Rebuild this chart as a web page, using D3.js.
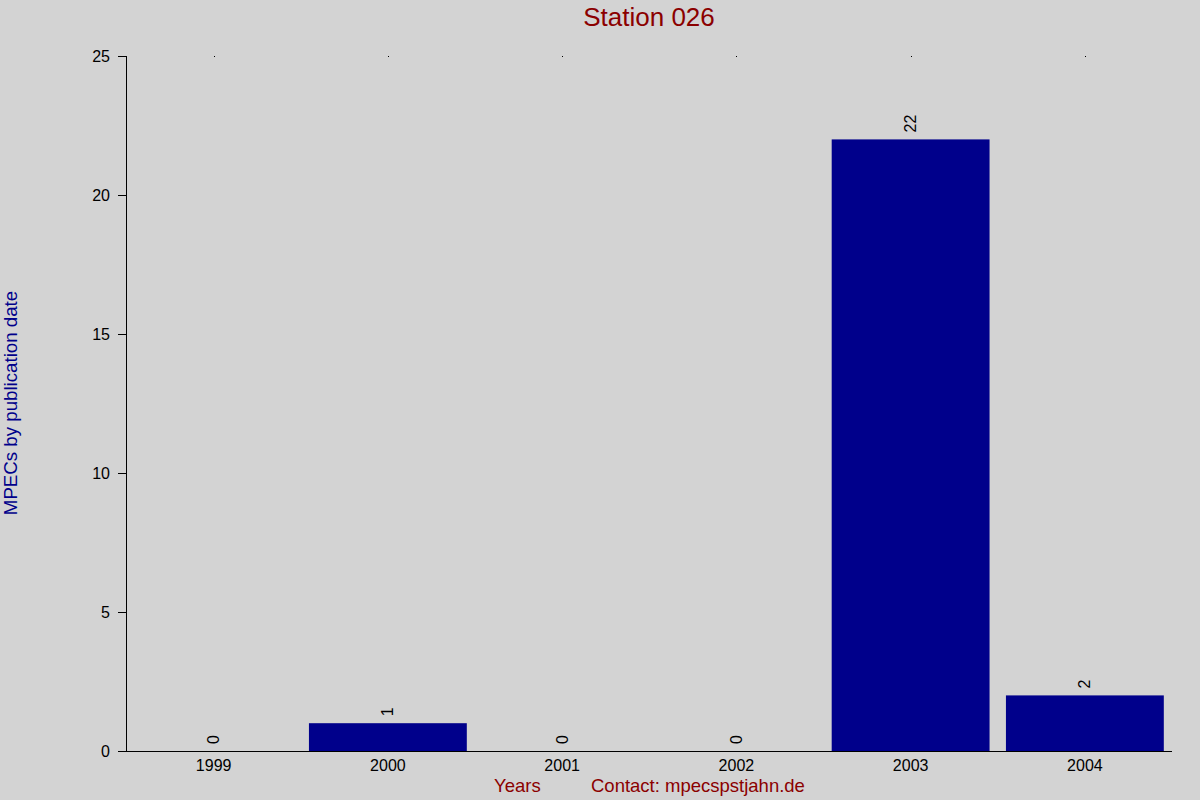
<!DOCTYPE html>
<html><head><meta charset="utf-8">
<script src="https://cdn.jsdelivr.net/npm/d3@7"></script>
<style>html,body{margin:0;padding:0;background:#d3d3d3;}svg{display:block;font-family:"Liberation Sans",Arial,sans-serif;}</style>
</head><body>
<script>
const years = ["1999","2000","2001","2002","2003","2004"];
const counts = [0,1,0,0,22,2];
const yTicks = [0,5,10,15,20,25];
const title = "Station 026";
const yLabel = "MPECs by publication date";
const xLabel = "Years";
const contact = "Contact: mpecspstjahn.de";

const W=1200,H=800;
const svg=d3.select("body").append("svg").attr("width",W).attr("height",H);
svg.append("rect").attr("width",W).attr("height",H).attr("fill","#d3d3d3");
const x=d3.scaleBand().domain(years).range([126.5,1172]).paddingInner(0.094).paddingOuter(0.047);
const y=d3.scaleLinear().domain([0,25]).range([751,56]);

svg.selectAll("rect.bar").data(years).enter().append("rect").attr("class","bar")
  .attr("x",d=>x(d)).attr("width",x.bandwidth())
  .attr("y",(d,i)=>y(counts[i])).attr("height",(d,i)=>y(0)-y(counts[i]))
  .attr("fill","#00008b");

svg.append("line").attr("x1",126.5).attr("x2",126.5).attr("y1",56).attr("y2",751.5).attr("stroke","#000");
svg.append("line").attr("x1",118).attr("x2",1172).attr("y1",751.5).attr("y2",751.5).attr("stroke","#000");
yTicks.forEach(t=>{
  svg.append("line").attr("x1",118).attr("x2",126).attr("y1",Math.round(y(t))+0.5).attr("y2",Math.round(y(t))+0.5).attr("stroke","#000");
  svg.append("text").attr("x",110).attr("y",y(t)+5.5).attr("text-anchor","end").attr("font-size",16).attr("fill","#000").text(t);
});
years.forEach((d,i)=>{
  const cx=x(d)+x.bandwidth()/2;
  svg.append("text").attr("x",cx).attr("y",771).attr("text-anchor","middle").attr("font-size",16).attr("fill","#000").text(d);
  svg.append("rect").attr("x",Math.round(cx)).attr("y",56).attr("width",1).attr("height",1).attr("fill","#000");
  svg.append("text").attr("transform",`translate(${cx+5.5},${y(counts[i])-7}) rotate(-90)`)
    .attr("text-anchor","start").attr("font-size",16).attr("fill","#000").text(counts[i]);
});

svg.append("text").attr("x",649).attr("y",26).attr("text-anchor","middle").attr("font-size",26).attr("fill","#8b0000").text(title);
svg.append("text").attr("transform","translate(17,403) rotate(-90)").attr("text-anchor","middle").attr("font-size",18.7).attr("fill","#00008b").text(yLabel);
svg.append("text").attr("x",494).attr("y",792).attr("font-size",18.5).attr("fill","#8b0000").text(xLabel);
svg.append("text").attr("x",591).attr("y",792).attr("font-size",18.5).attr("fill","#8b0000").text(contact);
</script>
</body></html>
